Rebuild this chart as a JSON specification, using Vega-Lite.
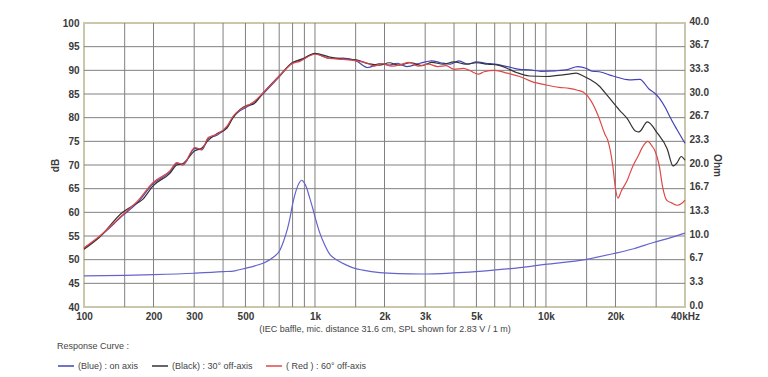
{
  "$schema": "https://vega.github.io/schema/vega-lite/v6.json",
  "width": 601,
  "height": 284,
  "autosize": {"type": "none"},
  "padding": {"left": 84, "top": 23, "right": 83, "bottom": 70},
  "background": "white",
  "config": {
    "font": "Liberation Sans",
    "view": {"stroke": "#cbc7ad", "strokeWidth": 2},
    "axis": {
      "labelFont": "Liberation Sans",
      "labelFontWeight": "bold",
      "labelColor": "#3a3a3a",
      "labelFontSize": 10,
      "titleFont": "Liberation Sans",
      "ticks": false,
      "domain": false,
      "labelOverlap": false,
      "gridColor": "#808080",
      "gridOpacity": 1,
      "gridWidth": 1
    },
    "legend": {
      "orient": "none",
      "legendX": -27,
      "legendY": 319,
      "direction": "horizontal",
      "titleFont": "Liberation Sans",
      "titleFontWeight": "normal",
      "titleFontSize": 9,
      "titleColor": "#444444",
      "titlePadding": 6,
      "labelFont": "Liberation Sans",
      "labelFontSize": 9,
      "labelColor": "#444444",
      "symbolType": "stroke",
      "symbolSize": 256,
      "symbolStrokeWidth": 1.5,
      "columnPadding": 10,
      "labelOffset": 3
    }
  },
  "datasets": {
    "gridx": [
      {"f": 150}, {"f": 200}, {"f": 300}, {"f": 400}, {"f": 500}, {"f": 600}, {"f": 700}, {"f": 800}, {"f": 900},
      {"f": 1000}, {"f": 1500}, {"f": 2000}, {"f": 3000}, {"f": 4000}, {"f": 5000}, {"f": 6000}, {"f": 7000}, {"f": 8000}, {"f": 9000},
      {"f": 10000}, {"f": 15000}, {"f": 20000}, {"f": 30000}
    ],
    "gridy": [
      {"db": 45}, {"db": 50}, {"db": 55}, {"db": 60}, {"db": 65}, {"db": 70}, {"db": 75}, {"db": 80}, {"db": 85}, {"db": 90}, {"db": 95}
    ],
    "spl": [
      {"c": "(Blue) : on axis", "f": 100, "db": 52.4}, {"c": "(Blue) : on axis", "f": 117, "db": 54.9}, {"c": "(Blue) : on axis", "f": 147, "db": 59.3}, {"c": "(Blue) : on axis", "f": 170, "db": 62.0}, {"c": "(Blue) : on axis", "f": 199, "db": 66.0}, {"c": "(Blue) : on axis", "f": 236, "db": 68.6}, {"c": "(Blue) : on axis", "f": 252, "db": 70.3}, {"c": "(Blue) : on axis", "f": 268, "db": 70.0}, {"c": "(Blue) : on axis", "f": 302, "db": 73.5}, {"c": "(Blue) : on axis", "f": 324, "db": 73.2}, {"c": "(Blue) : on axis", "f": 345, "db": 75.6}, {"c": "(Blue) : on axis", "f": 376, "db": 76.3}, {"c": "(Blue) : on axis", "f": 416, "db": 78.0}, {"c": "(Blue) : on axis", "f": 442, "db": 80.1}, {"c": "(Blue) : on axis", "f": 508, "db": 82.3}, {"c": "(Blue) : on axis", "f": 538, "db": 83.0}, {"c": "(Blue) : on axis", "f": 595, "db": 85.0}, {"c": "(Blue) : on axis", "f": 705, "db": 88.8}, {"c": "(Blue) : on axis", "f": 795, "db": 91.6}, {"c": "(Blue) : on axis", "f": 860, "db": 92.1}, {"c": "(Blue) : on axis", "f": 1000, "db": 93.5}, {"c": "(Blue) : on axis", "f": 1160, "db": 92.5}, {"c": "(Blue) : on axis", "f": 1320, "db": 92.6}, {"c": "(Blue) : on axis", "f": 1510, "db": 92.0}, {"c": "(Blue) : on axis", "f": 1690, "db": 90.6}, {"c": "(Blue) : on axis", "f": 1910, "db": 91.4}, {"c": "(Blue) : on axis", "f": 2100, "db": 91.1}, {"c": "(Blue) : on axis", "f": 2270, "db": 91.5}, {"c": "(Blue) : on axis", "f": 2500, "db": 90.8}, {"c": "(Blue) : on axis", "f": 2850, "db": 91.5}, {"c": "(Blue) : on axis", "f": 3200, "db": 92.0}, {"c": "(Blue) : on axis", "f": 3500, "db": 91.6}, {"c": "(Blue) : on axis", "f": 3850, "db": 91.3}, {"c": "(Blue) : on axis", "f": 4200, "db": 92.0}, {"c": "(Blue) : on axis", "f": 4600, "db": 91.3}, {"c": "(Blue) : on axis", "f": 5000, "db": 91.8}, {"c": "(Blue) : on axis", "f": 5500, "db": 91.5}, {"c": "(Blue) : on axis", "f": 6000, "db": 91.3}, {"c": "(Blue) : on axis", "f": 6800, "db": 90.8}, {"c": "(Blue) : on axis", "f": 7700, "db": 90.2}, {"c": "(Blue) : on axis", "f": 8500, "db": 90.1}, {"c": "(Blue) : on axis", "f": 9500, "db": 89.8}, {"c": "(Blue) : on axis", "f": 11000, "db": 89.9}, {"c": "(Blue) : on axis", "f": 12500, "db": 90.2}, {"c": "(Blue) : on axis", "f": 13700, "db": 90.8}, {"c": "(Blue) : on axis", "f": 15000, "db": 90.4}, {"c": "(Blue) : on axis", "f": 15900, "db": 89.8}, {"c": "(Blue) : on axis", "f": 17000, "db": 89.7}, {"c": "(Blue) : on axis", "f": 19500, "db": 88.8}, {"c": "(Blue) : on axis", "f": 23000, "db": 88.0}, {"c": "(Blue) : on axis", "f": 25500, "db": 88.1}, {"c": "(Blue) : on axis", "f": 28000, "db": 86.0}, {"c": "(Blue) : on axis", "f": 29500, "db": 85.2}, {"c": "(Blue) : on axis", "f": 31000, "db": 84.1}, {"c": "(Blue) : on axis", "f": 33000, "db": 82.0}, {"c": "(Blue) : on axis", "f": 34400, "db": 80.2}, {"c": "(Blue) : on axis", "f": 36800, "db": 77.6}, {"c": "(Blue) : on axis", "f": 39000, "db": 75.5}, {"c": "(Blue) : on axis", "f": 40000, "db": 74.6},

      {"c": "(Black) : 30° off-axis", "f": 100, "db": 52.2}, {"c": "(Black) : 30° off-axis", "f": 117, "db": 54.8}, {"c": "(Black) : 30° off-axis", "f": 147, "db": 60.0}, {"c": "(Black) : 30° off-axis", "f": 160, "db": 61.2}, {"c": "(Black) : 30° off-axis", "f": 180, "db": 62.8}, {"c": "(Black) : 30° off-axis", "f": 199, "db": 65.6}, {"c": "(Black) : 30° off-axis", "f": 236, "db": 68.3}, {"c": "(Black) : 30° off-axis", "f": 252, "db": 70.0}, {"c": "(Black) : 30° off-axis", "f": 268, "db": 70.3}, {"c": "(Black) : 30° off-axis", "f": 302, "db": 73.0}, {"c": "(Black) : 30° off-axis", "f": 324, "db": 73.6}, {"c": "(Black) : 30° off-axis", "f": 345, "db": 75.2}, {"c": "(Black) : 30° off-axis", "f": 376, "db": 76.6}, {"c": "(Black) : 30° off-axis", "f": 416, "db": 77.8}, {"c": "(Black) : 30° off-axis", "f": 442, "db": 80.0}, {"c": "(Black) : 30° off-axis", "f": 508, "db": 82.6}, {"c": "(Black) : 30° off-axis", "f": 538, "db": 82.8}, {"c": "(Black) : 30° off-axis", "f": 595, "db": 85.2}, {"c": "(Black) : 30° off-axis", "f": 705, "db": 89.0}, {"c": "(Black) : 30° off-axis", "f": 795, "db": 91.5}, {"c": "(Black) : 30° off-axis", "f": 900, "db": 92.6}, {"c": "(Black) : 30° off-axis", "f": 1000, "db": 93.6}, {"c": "(Black) : 30° off-axis", "f": 1160, "db": 92.8}, {"c": "(Black) : 30° off-axis", "f": 1320, "db": 92.4}, {"c": "(Black) : 30° off-axis", "f": 1510, "db": 92.2}, {"c": "(Black) : 30° off-axis", "f": 1700, "db": 91.4}, {"c": "(Black) : 30° off-axis", "f": 1900, "db": 91.1}, {"c": "(Black) : 30° off-axis", "f": 2100, "db": 91.6}, {"c": "(Black) : 30° off-axis", "f": 2300, "db": 91.1}, {"c": "(Black) : 30° off-axis", "f": 2600, "db": 91.6}, {"c": "(Black) : 30° off-axis", "f": 2900, "db": 91.0}, {"c": "(Black) : 30° off-axis", "f": 3200, "db": 91.7}, {"c": "(Black) : 30° off-axis", "f": 3600, "db": 91.3}, {"c": "(Black) : 30° off-axis", "f": 4000, "db": 91.8}, {"c": "(Black) : 30° off-axis", "f": 4500, "db": 91.3}, {"c": "(Black) : 30° off-axis", "f": 5000, "db": 91.6}, {"c": "(Black) : 30° off-axis", "f": 5600, "db": 91.3}, {"c": "(Black) : 30° off-axis", "f": 6200, "db": 91.1}, {"c": "(Black) : 30° off-axis", "f": 6800, "db": 90.4}, {"c": "(Black) : 30° off-axis", "f": 7500, "db": 89.5}, {"c": "(Black) : 30° off-axis", "f": 8500, "db": 88.8}, {"c": "(Black) : 30° off-axis", "f": 10000, "db": 88.7}, {"c": "(Black) : 30° off-axis", "f": 11500, "db": 89.0}, {"c": "(Black) : 30° off-axis", "f": 12600, "db": 89.2}, {"c": "(Black) : 30° off-axis", "f": 13500, "db": 89.4}, {"c": "(Black) : 30° off-axis", "f": 14500, "db": 88.8}, {"c": "(Black) : 30° off-axis", "f": 15600, "db": 88.0}, {"c": "(Black) : 30° off-axis", "f": 17000, "db": 86.7}, {"c": "(Black) : 30° off-axis", "f": 18500, "db": 84.6}, {"c": "(Black) : 30° off-axis", "f": 20800, "db": 81.6}, {"c": "(Black) : 30° off-axis", "f": 22500, "db": 79.8}, {"c": "(Black) : 30° off-axis", "f": 24400, "db": 77.2}, {"c": "(Black) : 30° off-axis", "f": 25300, "db": 77.0}, {"c": "(Black) : 30° off-axis", "f": 27500, "db": 79.1}, {"c": "(Black) : 30° off-axis", "f": 30300, "db": 76.8}, {"c": "(Black) : 30° off-axis", "f": 33500, "db": 73.4}, {"c": "(Black) : 30° off-axis", "f": 35500, "db": 69.8}, {"c": "(Black) : 30° off-axis", "f": 37000, "db": 70.5}, {"c": "(Black) : 30° off-axis", "f": 38500, "db": 71.8}, {"c": "(Black) : 30° off-axis", "f": 40000, "db": 71.0},

      {"c": "( Red ) : 60° off-axis", "f": 100, "db": 52.5}, {"c": "( Red ) : 60° off-axis", "f": 117, "db": 55.0}, {"c": "( Red ) : 60° off-axis", "f": 147, "db": 59.5}, {"c": "( Red ) : 60° off-axis", "f": 170, "db": 62.3}, {"c": "( Red ) : 60° off-axis", "f": 199, "db": 66.3}, {"c": "( Red ) : 60° off-axis", "f": 236, "db": 68.8}, {"c": "( Red ) : 60° off-axis", "f": 252, "db": 70.5}, {"c": "( Red ) : 60° off-axis", "f": 268, "db": 70.1}, {"c": "( Red ) : 60° off-axis", "f": 302, "db": 73.7}, {"c": "( Red ) : 60° off-axis", "f": 324, "db": 73.3}, {"c": "( Red ) : 60° off-axis", "f": 345, "db": 75.8}, {"c": "( Red ) : 60° off-axis", "f": 376, "db": 76.5}, {"c": "( Red ) : 60° off-axis", "f": 416, "db": 78.2}, {"c": "( Red ) : 60° off-axis", "f": 442, "db": 80.3}, {"c": "( Red ) : 60° off-axis", "f": 508, "db": 82.5}, {"c": "( Red ) : 60° off-axis", "f": 538, "db": 83.2}, {"c": "( Red ) : 60° off-axis", "f": 595, "db": 85.2}, {"c": "( Red ) : 60° off-axis", "f": 705, "db": 88.9}, {"c": "( Red ) : 60° off-axis", "f": 795, "db": 91.4}, {"c": "( Red ) : 60° off-axis", "f": 860, "db": 91.9}, {"c": "( Red ) : 60° off-axis", "f": 1000, "db": 93.4}, {"c": "( Red ) : 60° off-axis", "f": 1160, "db": 92.5}, {"c": "( Red ) : 60° off-axis", "f": 1320, "db": 92.3}, {"c": "( Red ) : 60° off-axis", "f": 1510, "db": 92.0}, {"c": "( Red ) : 60° off-axis", "f": 1690, "db": 91.5}, {"c": "( Red ) : 60° off-axis", "f": 1800, "db": 90.9}, {"c": "( Red ) : 60° off-axis", "f": 1950, "db": 91.4}, {"c": "( Red ) : 60° off-axis", "f": 2150, "db": 90.9}, {"c": "( Red ) : 60° off-axis", "f": 2350, "db": 91.2}, {"c": "( Red ) : 60° off-axis", "f": 2550, "db": 91.7}, {"c": "( Red ) : 60° off-axis", "f": 2800, "db": 90.9}, {"c": "( Red ) : 60° off-axis", "f": 3100, "db": 91.3}, {"c": "( Red ) : 60° off-axis", "f": 3400, "db": 90.8}, {"c": "( Red ) : 60° off-axis", "f": 3700, "db": 91.0}, {"c": "( Red ) : 60° off-axis", "f": 4000, "db": 90.2}, {"c": "( Red ) : 60° off-axis", "f": 4400, "db": 90.4}, {"c": "( Red ) : 60° off-axis", "f": 4700, "db": 89.9}, {"c": "( Red ) : 60° off-axis", "f": 5100, "db": 89.2}, {"c": "( Red ) : 60° off-axis", "f": 5400, "db": 89.7}, {"c": "( Red ) : 60° off-axis", "f": 6000, "db": 90.0}, {"c": "( Red ) : 60° off-axis", "f": 6800, "db": 89.4}, {"c": "( Red ) : 60° off-axis", "f": 7700, "db": 88.7}, {"c": "( Red ) : 60° off-axis", "f": 8700, "db": 87.6}, {"c": "( Red ) : 60° off-axis", "f": 10000, "db": 86.9}, {"c": "( Red ) : 60° off-axis", "f": 11400, "db": 86.4}, {"c": "( Red ) : 60° off-axis", "f": 12600, "db": 86.2}, {"c": "( Red ) : 60° off-axis", "f": 13700, "db": 85.8}, {"c": "( Red ) : 60° off-axis", "f": 14500, "db": 85.4}, {"c": "( Red ) : 60° off-axis", "f": 15600, "db": 83.7}, {"c": "( Red ) : 60° off-axis", "f": 16900, "db": 80.2}, {"c": "( Red ) : 60° off-axis", "f": 18000, "db": 76.5}, {"c": "( Red ) : 60° off-axis", "f": 18500, "db": 75.3}, {"c": "( Red ) : 60° off-axis", "f": 19500, "db": 69.6}, {"c": "( Red ) : 60° off-axis", "f": 20000, "db": 65.0}, {"c": "( Red ) : 60° off-axis", "f": 20500, "db": 63.0}, {"c": "( Red ) : 60° off-axis", "f": 21200, "db": 64.5}, {"c": "( Red ) : 60° off-axis", "f": 22500, "db": 66.8}, {"c": "( Red ) : 60° off-axis", "f": 23700, "db": 69.6}, {"c": "( Red ) : 60° off-axis", "f": 25000, "db": 71.8}, {"c": "( Red ) : 60° off-axis", "f": 26500, "db": 74.2}, {"c": "( Red ) : 60° off-axis", "f": 27600, "db": 75.0}, {"c": "( Red ) : 60° off-axis", "f": 28800, "db": 74.0}, {"c": "( Red ) : 60° off-axis", "f": 29500, "db": 73.2}, {"c": "( Red ) : 60° off-axis", "f": 31000, "db": 69.6}, {"c": "( Red ) : 60° off-axis", "f": 32000, "db": 65.4}, {"c": "( Red ) : 60° off-axis", "f": 33300, "db": 62.6}, {"c": "( Red ) : 60° off-axis", "f": 35000, "db": 62.0}, {"c": "( Red ) : 60° off-axis", "f": 37000, "db": 61.5}, {"c": "( Red ) : 60° off-axis", "f": 38500, "db": 61.8}, {"c": "( Red ) : 60° off-axis", "f": 40000, "db": 62.6}
    ],
    "imp": [
      {"f": 100, "ohm": 4.37}, {"f": 150, "ohm": 4.45}, {"f": 200, "ohm": 4.55}, {"f": 300, "ohm": 4.75}, {"f": 400, "ohm": 4.97}, {"f": 450, "ohm": 5.1}, {"f": 500, "ohm": 5.45}, {"f": 550, "ohm": 5.8}, {"f": 600, "ohm": 6.2}, {"f": 660, "ohm": 7.0}, {"f": 705, "ohm": 8.0}, {"f": 730, "ohm": 9.2}, {"f": 760, "ohm": 11.0}, {"f": 780, "ohm": 12.6}, {"f": 800, "ohm": 14.5}, {"f": 830, "ohm": 16.5}, {"f": 855, "ohm": 17.5}, {"f": 875, "ohm": 17.85}, {"f": 895, "ohm": 17.6}, {"f": 920, "ohm": 16.8}, {"f": 950, "ohm": 15.3}, {"f": 980, "ohm": 13.8}, {"f": 1010, "ohm": 12.2}, {"f": 1050, "ohm": 10.4}, {"f": 1100, "ohm": 8.8}, {"f": 1160, "ohm": 7.4}, {"f": 1250, "ohm": 6.6}, {"f": 1370, "ohm": 5.9}, {"f": 1500, "ohm": 5.4}, {"f": 1610, "ohm": 5.2}, {"f": 1910, "ohm": 4.85}, {"f": 2300, "ohm": 4.7}, {"f": 2900, "ohm": 4.65}, {"f": 3960, "ohm": 4.8}, {"f": 5500, "ohm": 5.1}, {"f": 7700, "ohm": 5.55}, {"f": 9900, "ohm": 6.0}, {"f": 15000, "ohm": 6.72}, {"f": 19500, "ohm": 7.5}, {"f": 24000, "ohm": 8.2}, {"f": 29000, "ohm": 9.05}, {"f": 35000, "ohm": 9.8}, {"f": 40000, "ohm": 10.4}
    ]
  },
  "layer": [
    {
      "layer": [
        {
          "data": {"name": "gridx"},
          "mark": {"type": "rule", "color": "#808080", "strokeWidth": 1},
          "encoding": {
            "x": {
              "field": "f",
              "type": "quantitative",
              "scale": {"type": "log", "domain": [100, 40000], "nice": false},
              "axis": {
                "values": [100, 200, 300, 500, 1000, 2000, 3000, 5000, 10000, 20000, 40000],
                "labelExpr": "datum.value >= 40000 ? '40kHz' : datum.value >= 1000 ? (datum.value / 1000) + 'k' : '' + datum.value",
                "labelFlush": false,
                "labelOverlap": false,
                "labelPadding": 4,
                "grid": false,
                "title": "(IEC baffle, mic. distance 31.6 cm, SPL shown for 2.83 V / 1 m)",
                "titleFontWeight": "normal",
                "titleFontSize": 9,
                "titleColor": "#444444",
                "titlePadding": 3
              }
            }
          }
        },
        {
          "data": {"name": "gridy"},
          "mark": {"type": "rule", "color": "#808080", "strokeWidth": 1},
          "encoding": {
            "y": {
              "field": "db",
              "type": "quantitative",
              "scale": {"domain": [40, 100], "nice": false, "zero": false},
              "axis": {
                "orient": "left",
                "values": [40, 45, 50, 55, 60, 65, 70, 75, 80, 85, 90, 95, 100],
                "tickCount": 13,
                "labelOverlap": false,
                "grid": false,
                "labelPadding": 5,
                "title": "dB",
                "titleFontSize": 10,
                "titleFontWeight": "bold",
                "titleColor": "#3a3a3a",
                "titlePadding": 2
              }
            }
          }
        },
        {
          "data": {"name": "spl"},
          "mark": {"type": "line", "strokeWidth": 1.2, "interpolate": "monotone"},
          "encoding": {
            "x": {"field": "f", "type": "quantitative"},
            "y": {"field": "db", "type": "quantitative"},
            "color": {
              "field": "c",
              "type": "nominal",
              "scale": {
                "domain": ["(Blue) : on axis", "(Black) : 30° off-axis", "( Red ) : 60° off-axis"],
                "range": ["#4343b8", "#333333", "#e04848"]
              },
              "legend": {"title": "Response Curve :"}
            }
          }
        },
        {
          "mark": {"type": "rule", "color": "#5555cc", "strokeWidth": 1.5},
          "encoding": {"y": {"datum": 40, "type": "quantitative"}}
        },
        {
          "mark": {"type": "rect", "fillOpacity": 0, "stroke": "#555555", "strokeWidth": 1.5, "clip": false},
          "encoding": {
            "x": {"datum": 72.7, "type": "quantitative"},
            "x2": {"datum": 54450},
            "y": {"datum": 102.3, "type": "quantitative"},
            "y2": {"datum": 34.7}
          }
        },
        {
          "mark": {"type": "text", "angle": 90, "fontSize": 6, "color": "#999999", "font": "DejaVu Sans"},
          "encoding": {
            "x": {"datum": 36800, "type": "quantitative"},
            "y": {"datum": 97.6, "type": "quantitative"},
            "text": {"value": "DRAS"}
          }
        }
      ]
    },
    {
      "data": {"name": "imp"},
      "mark": {"type": "line", "strokeWidth": 1.2, "color": "#6464cc", "interpolate": "monotone"},
      "encoding": {
        "x": {"field": "f", "type": "quantitative"},
        "y": {
          "field": "ohm",
          "type": "quantitative",
          "scale": {"domain": [0, 40], "nice": false},
          "axis": {
            "orient": "right",
            "values": [0, 3.3333, 6.6667, 10, 13.3333, 16.6667, 20, 23.3333, 26.6667, 30, 33.3333, 36.6667, 40],
            "format": ".1f",
            "labelOverlap": false,
            "labelOffset": -2,
            "grid": false,
            "labelPadding": 4,
            "title": "Ohm",
            "titleFontSize": 10,
            "titleFontWeight": "bold",
            "titleColor": "#3a3a3a",
            "titlePadding": 3
          }
        }
      }
    }
  ],
  "resolve": {"scale": {"y": "independent"}}
}
